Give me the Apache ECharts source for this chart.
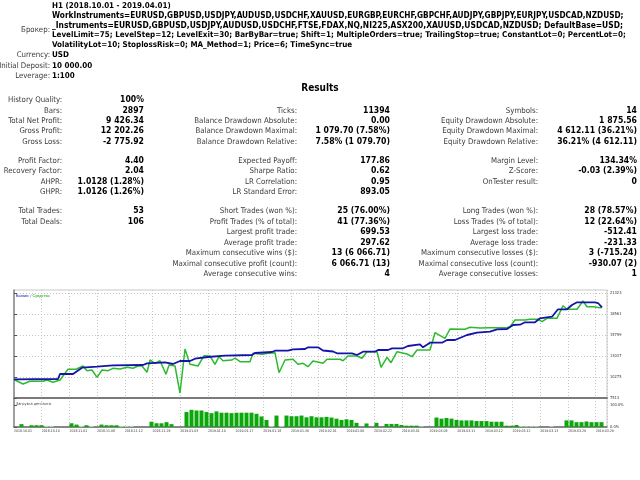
<!DOCTYPE html>
<html>
<head>
<meta charset="utf-8">
<script src="https://cdn.jsdelivr.net/npm/echarts@6/dist/echarts.min.js"></script>
<style>
html, body { margin: 0; padding: 0; background: #fff; }
#main { width: 640px; height: 480px; }
</style>
</head>
<body>
<div id="main"></div>
<script>
// balance / equity curves, x = deal slot, y = account value
var balance = [[0,9972],[8.8,10012],[9.2,10669],[11.8,10669],[13.6,11498],[16.6,11630],[19.8,11814],[25.8,11853],
  [26.6,12077],[30.2,12208],[31.8,11985],[33.2,12379],[35.2,12379],[36.2,12682],[38.8,12905],[42.2,13076],
  [47.6,13168],[48.2,13431],[51.6,13563],[52.2,13734],[54.8,13734],[55.8,13918],[58.2,13957],[58.8,14181],
  [60.8,14181],[61.8,13760],[63.8,13629],[64.6,13392],[67.6,13392],[68.6,13168],[69.8,13602],[72.2,13602],
  [72.8,13826],[74.8,13826],[75.6,14049],[77.8,14049],[78.8,14352],[81.2,14576],[81.8,14181],[83.2,14786],
  [85.6,14786],[86.6,15141],[88.2,15141],[90.6,15799],[92.6,16101],[95.2,16233],[96.6,16548],[98.6,16588],
  [99.8,17114],[101.2,17153],[102.2,17469],[104.2,17469],[105.2,17995],[107.6,18206],[108.8,19179],[110.6,19179],
  [111.6,19744],[112.6,20099],[116.2,20099],[116.8,20007],[117.6,19442]];
var equity = [[0,9946],[1.8,9354],[3.2,9709],[5.8,9709],[6.6,9880],[7.8,9578],[9.2,9880],[10.8,11288],[12.4,11288],
  [13.8,11722],[14.6,11104],[15.6,11196],[16.6,10235],[17.6,11196],[18.8,11104],[19.8,11419],[21.2,11327],
  [22.6,11551],[23.8,11419],[24.8,11722],[25.6,11722],[26.6,10893],[27.2,12511],[28.2,12077],[29.2,12419],
  [30.4,10630],[31,11853],[32.2,11722],[33.2,8171],[34.2,13957],[35.2,11945],[36.8,11722],[38,13076],[39.2,13037],
  [40.2,11945],[41,12945],[41.8,12419],[43.6,12511],[44.2,12774],[45.2,12287],[47.2,12287],[47.8,13392],
  [49.6,13260],[50.8,13392],[52.2,13471],[53,10840],[54.2,12511],[55.8,12603],[56.8,11945],[57.8,12077],
  [58.8,11630],[59.8,12379],[61.2,12182],[61.8,12077],[62.6,12603],[65.2,12603],[65.8,12419],[66.8,13037],
  [68.6,13037],[69.6,12734],[70.6,13602],[72.6,13602],[73.4,11551],[74.6,12866],[75.4,12156],[76.6,13602],
  [78.6,13300],[79.6,12945],[80.6,13826],[83.2,13826],[84.2,16101],[86.2,15365],[87.2,16588],[90.2,16548],
  [91.2,16812],[93.2,16719],[95.2,16759],[98.6,16759],[99.2,16890],[100.2,17772],[102.2,17772],[103.2,17864],
  [104.8,17864],[105.6,17548],[106.6,17995],[108.6,17995],[109.8,19652],[110.6,19179],[112.6,19179],
  [113.8,20270],[114.6,19521],[115.8,19521],[117.2,19389],[117.6,19442]];

// deposit load, [slot, percent]
var loadDark = [[1,13],[3,8],[4,8],[5,8],[11,17],[12,11],[14,8],[17,11],[18,8],[19,8],[20,8],
  [27,24],[28,17],[29,17],[30,22],[31,13],[34,68],[35,78],[36,75],[37,75],[38,68],[39,63],[40,71],[41,65],
  [42,65],[43,63],[44,65],[45,65],[46,65],[47,65],[48,60],[49,48],[50,32],[52,52],[54,52],[55,49],[56,49],
  [57,52],[58,44],[59,49],[60,44],[61,44],[62,46],[63,43],[64,38],[65,32],[66,35],[67,32],[68,19],[70,16],
  [72,19],[74,14],[75,14],[76,14],[77,9],[78,6],[79,6],[80,6],[84,43],[85,38],[86,41],[87,38],[88,32],
  [89,30],[90,30],[91,30],[92,27],[93,27],[94,27],[95,24],[96,24],[97,24],[98,6],[99,6],[100,9],
  [110,30],[111,30],[112,22],[113,22],[114,25],[115,22],[116,22],[117,22]];
var loadLight = [[6,5],[7,5],[13,5],[15,5],[21,5],[22,5],[23,5],[51,5],[53,5],[81,3],
  [101,4],[102,4],[103,4],[104,4],[107,4]];

var valueTicks = [7513, 10275, 13037, 15799, 18561, 21323];
var loadTicks = [0, 100];
var dates = ['2018.10.01','2018.10.10','2018.11.01','2018.11.08','2018.11.12','2018.11.28','2019.01.03',
  '2019.01.10','2019.01.17','2019.01.18','2019.01.30','2019.02.01','2019.02.06','2019.02.22','2019.03.01',
  '2019.03.08','2019.03.11','2019.03.12','2019.03.12','2019.03.13','2019.03.29','2019.03.29'];
var dateStep = 5.54;

// report header
var headerRows = [
  ['', 'H1 (2018.10.01 - 2019.04.01)'],
  ['', 'WorkInstruments=EURUSD,GBPUSD,USDJPY,AUDUSD,USDCHF,XAUUSD,EURGBP,EURCHF,GBPCHF,AUDJPY,GBPJPY,EURJPY,USDCAD,NZDUSD;'],
  ['', '_Instruments=EURUSD,GBPUSD,USDJPY,AUDUSD,USDCHF,FTSE,FDAX,NQ,NI225,ASX200,XAUUSD,USDCAD,NZDUSD; DefaultBase=USD;'],
  ['', 'LevelLimit=75; LevelStep=12; LevelExit=30; BarByBar=true; Shift=1; MultipleOrders=true; TrailingStop=true; ConstantLot=0; PercentLot=0;'],
  ['', 'VolatilityLot=10; StoplossRisk=0; MA_Method=1; Price=6; TimeSync=true'],
  ['Currency:', 'USD'],
  ['Initial Deposit:', '10 000.00'],
  ['Leverage:', '1:100']
];
var headerY = [5.5, 16, 25.5, 35, 44.5, 55, 65.5, 76];

var statRows = [
  ['History Quality:', '100%', '', '', '', ''],
  ['Bars:', '2897', 'Ticks:', '11394', 'Symbols:', '14'],
  ['Total Net Profit:', '9 426.34', 'Balance Drawdown Absolute:', '0.00', 'Equity Drawdown Absolute:', '1 875.56'],
  ['Gross Profit:', '12 202.26', 'Balance Drawdown Maximal:', '1 079.70 (7.58%)', 'Equity Drawdown Maximal:', '4 612.11 (36.21%)'],
  ['Gross Loss:', '-2 775.92', 'Balance Drawdown Relative:', '7.58% (1 079.70)', 'Equity Drawdown Relative:', '36.21% (4 612.11)'],
  ['Profit Factor:', '4.40', 'Expected Payoff:', '177.86', 'Margin Level:', '134.34%'],
  ['Recovery Factor:', '2.04', 'Sharpe Ratio:', '0.62', 'Z-Score:', '-0.03 (2.39%)'],
  ['AHPR:', '1.0128 (1.28%)', 'LR Correlation:', '0.95', 'OnTester result:', '0'],
  ['GHPR:', '1.0126 (1.26%)', 'LR Standard Error:', '893.05', '', ''],
  ['Total Trades:', '53', 'Short Trades (won %):', '25 (76.00%)', 'Long Trades (won %):', '28 (78.57%)'],
  ['Total Deals:', '106', 'Profit Trades (% of total):', '41 (77.36%)', 'Loss Trades (% of total):', '12 (22.64%)'],
  ['', '', 'Largest profit trade:', '699.53', 'Largest loss trade:', '-512.41'],
  ['', '', 'Average profit trade:', '297.62', 'Average loss trade:', '-231.33'],
  ['', '', 'Maximum consecutive wins ($):', '13 (6 066.71)', 'Maximum consecutive losses ($):', '3 (-715.24)'],
  ['', '', 'Maximal consecutive profit (count):', '6 066.71 (13)', 'Maximal consecutive loss (count):', '-930.07 (2)'],
  ['', '', 'Average consecutive wins:', '4', 'Average consecutive losses:', '1']
];
var statY = [100, 110.5, 121, 131, 141.5, 160.5, 171, 181.5, 192, 211, 221.5, 232, 242.5, 253, 263.5, 274];
var labelEdge = [62, 297, 538];
var valueEdge = [144, 390, 637];

var FONT = '"DejaVu Sans Condensed", "DejaVu Sans", sans-serif';

// pick a font size so a sample string takes the width it has in the report
var measureCtx = document.createElement('canvas').getContext('2d');
function fit(s, weight, width) {
    measureCtx.font = weight + ' 20px ' + FONT;
    return 20 * width / measureCtx.measureText(s).width;
}
var headSize = fit(headerRows[3][1], 'bold', 575);
var headSizes = headerRows.map(function (r, i) {
    if (i === 1 || i === 2) return fit(r[1], 'bold', 572);
    return headSize;
});
var labelSize = fit('Equity Drawdown Maximal:', 'normal', 96);
var valueSize = fit('4 612.11 (36.21%)', 'bold', 80);
var dateSize = fit('2018.10.01', 'normal', 18);
var tickSize = fit('21323', 'normal', 11.5);
var noteSize = fit('Загрузка депозита', 'normal', 35);

function txt(x, y, s, align, bold, size, color) {
    return {
        type: 'text', x: x, y: y, silent: true,
        style: {
            text: s, fontFamily: FONT, fontSize: size, fontWeight: bold ? 'bold' : 'normal',
            fill: color || (bold ? '#000' : '#3a3a3a'), textAlign: align, textVerticalAlign: 'middle',
            align: align, verticalAlign: 'middle'
        }
    };
}

var texts = [];
headerRows.forEach(function (r, i) {
    if (r[0]) texts.push(txt(50, headerY[i], r[0], 'right', false, labelSize));
    texts.push(txt(52, headerY[i], r[1], 'left', true, headSizes[i]));
});
texts.push(txt(50, 30, 'Брокер:', 'right', false, labelSize));
texts.push(txt(320, 88, 'Results', 'center', true, headSize * 1.25));
statRows.forEach(function (r, i) {
    for (var c = 0; c < 3; c++) {
        if (r[c * 2]) texts.push(txt(labelEdge[c], statY[i], r[c * 2], 'right', false, labelSize));
        if (r[c * 2 + 1]) texts.push(txt(valueEdge[c], statY[i], r[c * 2 + 1], 'right', true, valueSize));
    }
});
texts.push({
    type: 'text', x: 16, y: 296, silent: true,
    style: {
        text: '{b|Баланс} / {g|Средства}', fontFamily: FONT, fontSize: noteSize, fill: '#333',
        textVerticalAlign: 'middle', verticalAlign: 'middle',
        rich: { b: { fill: '#0000b0', fontSize: noteSize }, g: { fill: '#00a000', fontSize: noteSize } }
    }
});
texts.push(txt(16, 404, 'Загрузка депозита', 'left', false, noteSize, '#444'));

var chart = echarts.init(document.getElementById('main'));

var gridLine = { show: true, lineStyle: { color: '#c4c4c4', type: [1, 2], width: 1 } };

var option = {
    animation: false,
    backgroundColor: '#fff',
    graphic: { elements: texts },
    grid: [
        { left: 14, top: 290, width: 593, height: 108, show: true, borderColor: '#c8c8c8', borderWidth: 1 },
        { left: 14, top: 398, width: 593, height: 29, show: true, borderColor: '#c8c8c8', borderWidth: 1 }
    ],
    xAxis: [
        { type: 'value', gridIndex: 0, min: 0, max: 118.6, interval: dateStep,
          axisLine: { show: true, onZero: false, lineStyle: { color: '#7a7a7a', width: 2 } },
          axisTick: { show: false }, axisLabel: { show: false }, splitLine: gridLine },
        { type: 'value', gridIndex: 1, min: 0, max: 118.6, interval: dateStep,
          axisLine: { show: true, onZero: false, lineStyle: { color: '#6a6a6a', width: 1.5 } },
          axisTick: { show: false },
          axisLabel: {
              fontFamily: FONT, fontSize: dateSize, color: '#333',
              align: 'left', margin: 3, showMaxLabel: false, hideOverlap: false,
              formatter: function (v) { return dates[Math.round(v / dateStep)] || ''; }
          },
          splitLine: gridLine }
    ],
    yAxis: [
        { type: 'value', gridIndex: 0, position: 'right', min: 7513, max: 21718, interval: 2762,
          axisLine: { show: true, lineStyle: { color: '#8a8a8a', width: 1.5 } },
          axisTick: { show: true, length: 3, customValues: valueTicks, lineStyle: { color: '#555' } },
          axisLabel: { fontFamily: FONT, fontSize: tickSize, color: '#333', customValues: valueTicks, margin: 3,
              formatter: function (v) { return String(Math.round(v)); } },
          splitLine: gridLine },
        { type: 'value', gridIndex: 1, position: 'right', min: 0, max: 131.8,
          axisLine: { show: true, lineStyle: { color: '#8a8a8a', width: 1.5 } },
          axisTick: { show: true, length: 3, customValues: loadTicks, lineStyle: { color: '#555' } },
          axisLabel: { fontFamily: FONT, fontSize: tickSize, color: '#333', customValues: loadTicks, margin: 3,
              formatter: function (v) { return v.toFixed(1) + '%'; } },
          splitLine: { show: false } }
    ],
    series: [
        { name: 'Средства', type: 'line', xAxisIndex: 0, yAxisIndex: 0, data: equity, symbol: 'none',
          lineStyle: { color: '#2cbb2c', width: 1.5 }, z: 3 },
        { name: 'Баланс', type: 'line', xAxisIndex: 0, yAxisIndex: 0, data: balance, symbol: 'none',
          lineStyle: { color: '#1414a8', width: 1.8 }, z: 4 },
        { name: 'load', type: 'bar', xAxisIndex: 1, yAxisIndex: 1, barWidth: 4,
          data: loadDark.map(function (d) { return [d[0] + 0.5, d[1]]; }),
          itemStyle: { color: '#0aa80a' } },
        { name: 'load2', type: 'bar', xAxisIndex: 1, yAxisIndex: 1, barWidth: 4, barGap: '-100%',
          data: loadLight.map(function (d) { return [d[0] + 0.5, d[1]]; }),
          itemStyle: { color: '#a6dfa6' } }
    ]
};

chart.setOption(option);
</script>
</body>
</html>
